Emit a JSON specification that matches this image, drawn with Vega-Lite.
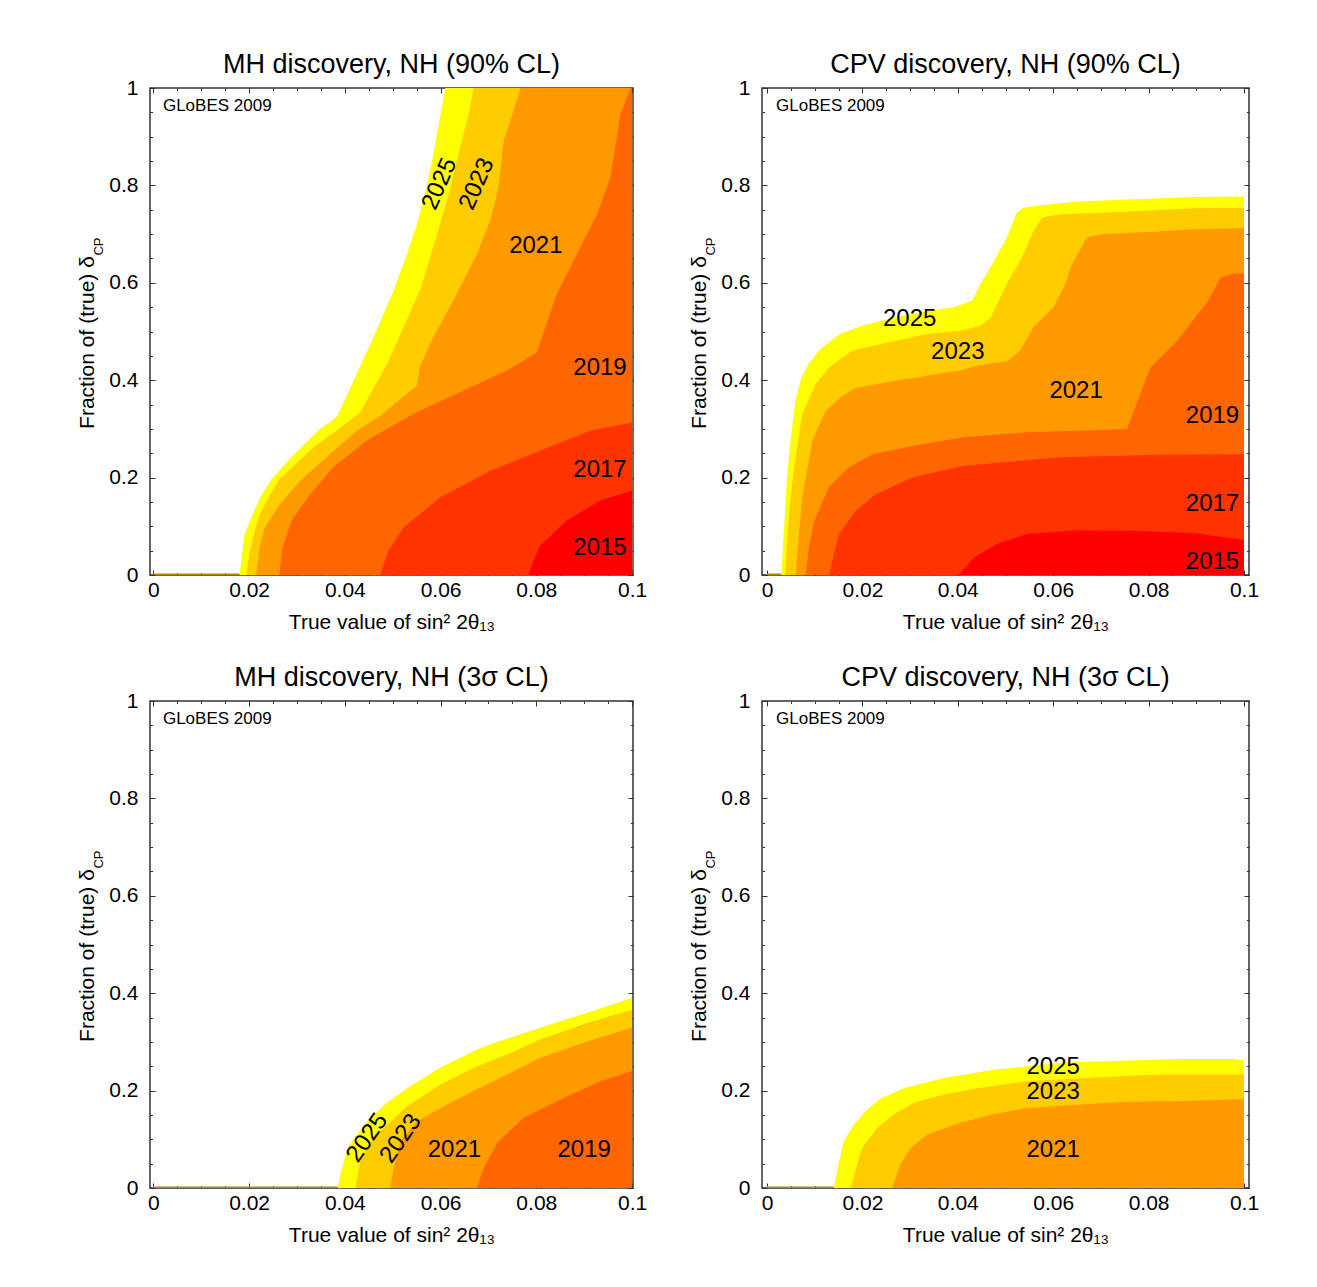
{
"$schema": "https://vega.github.io/schema/vega-lite/v6.json",
"background": "white",
"padding": {"left": 75, "top": 50, "right": 10, "bottom": 10},
"datasets": {
"contours": [
{"p":"MH90","yr":"2025","x":0.018,"y":0},{"p":"MH90","yr":"2025","x":0.019,"y":0.081},{"p":"MH90","yr":"2025","x":0.0202,"y":0.112},{"p":"MH90","yr":"2025","x":0.0223,"y":0.159},{"p":"MH90","yr":"2025","x":0.0247,"y":0.197},{"p":"MH90","yr":"2025","x":0.0289,"y":0.243},{"p":"MH90","yr":"2025","x":0.0348,"y":0.3},{"p":"MH90","yr":"2025","x":0.0373,"y":0.316},{"p":"MH90","yr":"2025","x":0.0385,"y":0.327},{"p":"MH90","yr":"2025","x":0.0425,"y":0.413},{"p":"MH90","yr":"2025","x":0.046,"y":0.488},{"p":"MH90","yr":"2025","x":0.0502,"y":0.584},{"p":"MH90","yr":"2025","x":0.053,"y":0.659},{"p":"MH90","yr":"2025","x":0.0551,"y":0.721},{"p":"MH90","yr":"2025","x":0.0571,"y":0.796},{"p":"MH90","yr":"2025","x":0.0585,"y":0.864},{"p":"MH90","yr":"2025","x":0.0599,"y":0.94},{"p":"MH90","yr":"2025","x":0.061,"y":1},{"p":"MH90","yr":"2025","x":0.1,"y":1},
{"p":"MH90","yr":"2023","x":0.0194,"y":0},{"p":"MH90","yr":"2023","x":0.0203,"y":0.057},{"p":"MH90","yr":"2023","x":0.0222,"y":0.125},{"p":"MH90","yr":"2023","x":0.0261,"y":0.194},{"p":"MH90","yr":"2023","x":0.0334,"y":0.262},{"p":"MH90","yr":"2023","x":0.039,"y":0.302},{"p":"MH90","yr":"2023","x":0.0432,"y":0.334},{"p":"MH90","yr":"2023","x":0.0488,"y":0.433},{"p":"MH90","yr":"2023","x":0.0557,"y":0.584},{"p":"MH90","yr":"2023","x":0.0592,"y":0.697},{"p":"MH90","yr":"2023","x":0.0617,"y":0.782},{"p":"MH90","yr":"2023","x":0.0641,"y":0.878},{"p":"MH90","yr":"2023","x":0.0659,"y":0.947},{"p":"MH90","yr":"2023","x":0.0669,"y":1},{"p":"MH90","yr":"2023","x":0.1,"y":1},
{"p":"MH90","yr":"2021","x":0.0215,"y":0},{"p":"MH90","yr":"2021","x":0.0222,"y":0.057},{"p":"MH90","yr":"2021","x":0.0233,"y":0.098},{"p":"MH90","yr":"2021","x":0.0265,"y":0.146},{"p":"MH90","yr":"2021","x":0.0307,"y":0.194},{"p":"MH90","yr":"2021","x":0.0362,"y":0.242},{"p":"MH90","yr":"2021","x":0.0425,"y":0.296},{"p":"MH90","yr":"2021","x":0.0474,"y":0.327},{"p":"MH90","yr":"2021","x":0.0551,"y":0.389},{"p":"MH90","yr":"2021","x":0.0556,"y":0.426},{"p":"MH90","yr":"2021","x":0.0585,"y":0.488},{"p":"MH90","yr":"2021","x":0.0634,"y":0.577},{"p":"MH90","yr":"2021","x":0.0676,"y":0.659},{"p":"MH90","yr":"2021","x":0.0704,"y":0.728},{"p":"MH90","yr":"2021","x":0.0721,"y":0.796},{"p":"MH90","yr":"2021","x":0.0732,"y":0.892},{"p":"MH90","yr":"2021","x":0.0746,"y":0.933},{"p":"MH90","yr":"2021","x":0.0767,"y":1},{"p":"MH90","yr":"2021","x":0.1,"y":1},
{"p":"MH90","yr":"2019","x":0.0263,"y":0},{"p":"MH90","yr":"2019","x":0.027,"y":0.057},{"p":"MH90","yr":"2019","x":0.0289,"y":0.112},{"p":"MH90","yr":"2019","x":0.0328,"y":0.166},{"p":"MH90","yr":"2019","x":0.0376,"y":0.221},{"p":"MH90","yr":"2019","x":0.0446,"y":0.276},{"p":"MH90","yr":"2019","x":0.0544,"y":0.331},{"p":"MH90","yr":"2019","x":0.0648,"y":0.379},{"p":"MH90","yr":"2019","x":0.0739,"y":0.42},{"p":"MH90","yr":"2019","x":0.0801,"y":0.457},{"p":"MH90","yr":"2019","x":0.0819,"y":0.509},{"p":"MH90","yr":"2019","x":0.0843,"y":0.577},{"p":"MH90","yr":"2019","x":0.0885,"y":0.659},{"p":"MH90","yr":"2019","x":0.0927,"y":0.741},{"p":"MH90","yr":"2019","x":0.0955,"y":0.817},{"p":"MH90","yr":"2019","x":0.0965,"y":0.878},{"p":"MH90","yr":"2019","x":0.0976,"y":0.947},{"p":"MH90","yr":"2019","x":0.0997,"y":1},{"p":"MH90","yr":"2019","x":0.1,"y":1},
{"p":"MH90","yr":"2017","x":0.0474,"y":0},{"p":"MH90","yr":"2017","x":0.0491,"y":0.05},{"p":"MH90","yr":"2017","x":0.0523,"y":0.098},{"p":"MH90","yr":"2017","x":0.0599,"y":0.159},{"p":"MH90","yr":"2017","x":0.0704,"y":0.214},{"p":"MH90","yr":"2017","x":0.0808,"y":0.255},{"p":"MH90","yr":"2017","x":0.0913,"y":0.296},{"p":"MH90","yr":"2017","x":0.1,"y":0.313},
{"p":"MH90","yr":"2015","x":0.0784,"y":0},{"p":"MH90","yr":"2015","x":0.0794,"y":0.029},{"p":"MH90","yr":"2015","x":0.0808,"y":0.06},{"p":"MH90","yr":"2015","x":0.0864,"y":0.112},{"p":"MH90","yr":"2015","x":0.0934,"y":0.153},{"p":"MH90","yr":"2015","x":0.1,"y":0.173},
{"p":"CPV90","yr":"2025","x":0.003,"y":0},{"p":"CPV90","yr":"2025","x":0.0036,"y":0.1},{"p":"CPV90","yr":"2025","x":0.0042,"y":0.2},{"p":"CPV90","yr":"2025","x":0.005,"y":0.283},{"p":"CPV90","yr":"2025","x":0.006,"y":0.36},{"p":"CPV90","yr":"2025","x":0.0072,"y":0.405},{"p":"CPV90","yr":"2025","x":0.0088,"y":0.435},{"p":"CPV90","yr":"2025","x":0.0112,"y":0.464},{"p":"CPV90","yr":"2025","x":0.0151,"y":0.494},{"p":"CPV90","yr":"2025","x":0.02,"y":0.512},{"p":"CPV90","yr":"2025","x":0.0266,"y":0.529},{"p":"CPV90","yr":"2025","x":0.035,"y":0.544},{"p":"CPV90","yr":"2025","x":0.0392,"y":0.55},{"p":"CPV90","yr":"2025","x":0.043,"y":0.563},{"p":"CPV90","yr":"2025","x":0.0448,"y":0.598},{"p":"CPV90","yr":"2025","x":0.0476,"y":0.645},{"p":"CPV90","yr":"2025","x":0.0503,"y":0.693},{"p":"CPV90","yr":"2025","x":0.0524,"y":0.745},{"p":"CPV90","yr":"2025","x":0.0538,"y":0.754},{"p":"CPV90","yr":"2025","x":0.0566,"y":0.758},{"p":"CPV90","yr":"2025","x":0.065,"y":0.767},{"p":"CPV90","yr":"2025","x":0.0755,"y":0.771},{"p":"CPV90","yr":"2025","x":0.0895,"y":0.776},{"p":"CPV90","yr":"2025","x":0.1,"y":0.777},
{"p":"CPV90","yr":"2023","x":0.0038,"y":0},{"p":"CPV90","yr":"2023","x":0.0046,"y":0.125},{"p":"CPV90","yr":"2023","x":0.0057,"y":0.221},{"p":"CPV90","yr":"2023","x":0.0074,"y":0.331},{"p":"CPV90","yr":"2023","x":0.0102,"y":0.392},{"p":"CPV90","yr":"2023","x":0.013,"y":0.426},{"p":"CPV90","yr":"2023","x":0.0179,"y":0.461},{"p":"CPV90","yr":"2023","x":0.0256,"y":0.478},{"p":"CPV90","yr":"2023","x":0.0336,"y":0.495},{"p":"CPV90","yr":"2023","x":0.041,"y":0.502},{"p":"CPV90","yr":"2023","x":0.0448,"y":0.512},{"p":"CPV90","yr":"2023","x":0.0469,"y":0.529},{"p":"CPV90","yr":"2023","x":0.0503,"y":0.598},{"p":"CPV90","yr":"2023","x":0.0538,"y":0.659},{"p":"CPV90","yr":"2023","x":0.0559,"y":0.707},{"p":"CPV90","yr":"2023","x":0.0577,"y":0.734},{"p":"CPV90","yr":"2023","x":0.0615,"y":0.741},{"p":"CPV90","yr":"2023","x":0.0755,"y":0.746},{"p":"CPV90","yr":"2023","x":0.0895,"y":0.753},{"p":"CPV90","yr":"2023","x":0.1,"y":0.754},
{"p":"CPV90","yr":"2021","x":0.006,"y":0},{"p":"CPV90","yr":"2021","x":0.0067,"y":0.084},{"p":"CPV90","yr":"2021","x":0.0074,"y":0.159},{"p":"CPV90","yr":"2021","x":0.0095,"y":0.276},{"p":"CPV90","yr":"2021","x":0.0123,"y":0.337},{"p":"CPV90","yr":"2021","x":0.0158,"y":0.368},{"p":"CPV90","yr":"2021","x":0.0186,"y":0.384},{"p":"CPV90","yr":"2021","x":0.027,"y":0.399},{"p":"CPV90","yr":"2021","x":0.041,"y":0.421},{"p":"CPV90","yr":"2021","x":0.0441,"y":0.43},{"p":"CPV90","yr":"2021","x":0.0503,"y":0.439},{"p":"CPV90","yr":"2021","x":0.0531,"y":0.461},{"p":"CPV90","yr":"2021","x":0.0559,"y":0.509},{"p":"CPV90","yr":"2021","x":0.0601,"y":0.55},{"p":"CPV90","yr":"2021","x":0.0626,"y":0.598},{"p":"CPV90","yr":"2021","x":0.0636,"y":0.632},{"p":"CPV90","yr":"2021","x":0.0671,"y":0.693},{"p":"CPV90","yr":"2021","x":0.0706,"y":0.7},{"p":"CPV90","yr":"2021","x":0.079,"y":0.704},{"p":"CPV90","yr":"2021","x":0.0895,"y":0.71},{"p":"CPV90","yr":"2021","x":0.1,"y":0.712},
{"p":"CPV90","yr":"2019","x":0.0081,"y":0},{"p":"CPV90","yr":"2019","x":0.0088,"y":0.057},{"p":"CPV90","yr":"2019","x":0.0099,"y":0.111},{"p":"CPV90","yr":"2019","x":0.013,"y":0.18},{"p":"CPV90","yr":"2019","x":0.0172,"y":0.221},{"p":"CPV90","yr":"2019","x":0.0221,"y":0.248},{"p":"CPV90","yr":"2019","x":0.0305,"y":0.265},{"p":"CPV90","yr":"2019","x":0.041,"y":0.283},{"p":"CPV90","yr":"2019","x":0.0545,"y":0.293},{"p":"CPV90","yr":"2019","x":0.065,"y":0.296},{"p":"CPV90","yr":"2019","x":0.0755,"y":0.3},{"p":"CPV90","yr":"2019","x":0.078,"y":0.365},{"p":"CPV90","yr":"2019","x":0.0804,"y":0.426},{"p":"CPV90","yr":"2019","x":0.086,"y":0.481},{"p":"CPV90","yr":"2019","x":0.0923,"y":0.56},{"p":"CPV90","yr":"2019","x":0.0951,"y":0.611},{"p":"CPV90","yr":"2019","x":0.0979,"y":0.619},{"p":"CPV90","yr":"2019","x":0.1,"y":0.619},
{"p":"CPV90","yr":"2017","x":0.013,"y":0},{"p":"CPV90","yr":"2017","x":0.0151,"y":0.084},{"p":"CPV90","yr":"2017","x":0.0186,"y":0.132},{"p":"CPV90","yr":"2017","x":0.0228,"y":0.166},{"p":"CPV90","yr":"2017","x":0.0305,"y":0.2},{"p":"CPV90","yr":"2017","x":0.041,"y":0.224},{"p":"CPV90","yr":"2017","x":0.0615,"y":0.242},{"p":"CPV90","yr":"2017","x":0.0825,"y":0.247},{"p":"CPV90","yr":"2017","x":0.1,"y":0.248},
{"p":"CPV90","yr":"2015","x":0.0402,"y":0},{"p":"CPV90","yr":"2015","x":0.0434,"y":0.036},{"p":"CPV90","yr":"2015","x":0.0483,"y":0.064},{"p":"CPV90","yr":"2015","x":0.0545,"y":0.084},{"p":"CPV90","yr":"2015","x":0.065,"y":0.092},{"p":"CPV90","yr":"2015","x":0.0755,"y":0.091},{"p":"CPV90","yr":"2015","x":0.0895,"y":0.086},{"p":"CPV90","yr":"2015","x":0.1,"y":0.072},
{"p":"MH3s","yr":"2025","x":0.0385,"y":0},{"p":"MH3s","yr":"2025","x":0.0394,"y":0.041},{"p":"MH3s","yr":"2025","x":0.0408,"y":0.086},{"p":"MH3s","yr":"2025","x":0.0446,"y":0.137},{"p":"MH3s","yr":"2025","x":0.0488,"y":0.175},{"p":"MH3s","yr":"2025","x":0.053,"y":0.205},{"p":"MH3s","yr":"2025","x":0.0599,"y":0.247},{"p":"MH3s","yr":"2025","x":0.0669,"y":0.281},{"p":"MH3s","yr":"2025","x":0.0704,"y":0.295},{"p":"MH3s","yr":"2025","x":0.0808,"y":0.329},{"p":"MH3s","yr":"2025","x":0.0906,"y":0.36},{"p":"MH3s","yr":"2025","x":0.1,"y":0.39},
{"p":"MH3s","yr":"2023","x":0.0422,"y":0},{"p":"MH3s","yr":"2023","x":0.0432,"y":0.055},{"p":"MH3s","yr":"2023","x":0.046,"y":0.103},{"p":"MH3s","yr":"2023","x":0.053,"y":0.168},{"p":"MH3s","yr":"2023","x":0.0599,"y":0.212},{"p":"MH3s","yr":"2023","x":0.0669,"y":0.247},{"p":"MH3s","yr":"2023","x":0.0739,"y":0.274},{"p":"MH3s","yr":"2023","x":0.0808,"y":0.305},{"p":"MH3s","yr":"2023","x":0.0906,"y":0.339},{"p":"MH3s","yr":"2023","x":0.1,"y":0.366},
{"p":"MH3s","yr":"2021","x":0.0495,"y":0},{"p":"MH3s","yr":"2021","x":0.0502,"y":0.041},{"p":"MH3s","yr":"2021","x":0.0516,"y":0.096},{"p":"MH3s","yr":"2021","x":0.0551,"y":0.137},{"p":"MH3s","yr":"2021","x":0.0613,"y":0.171},{"p":"MH3s","yr":"2021","x":0.0669,"y":0.199},{"p":"MH3s","yr":"2021","x":0.0739,"y":0.233},{"p":"MH3s","yr":"2021","x":0.0808,"y":0.267},{"p":"MH3s","yr":"2021","x":0.0906,"y":0.301},{"p":"MH3s","yr":"2021","x":0.1,"y":0.329},
{"p":"MH3s","yr":"2019","x":0.0676,"y":0},{"p":"MH3s","yr":"2019","x":0.069,"y":0.041},{"p":"MH3s","yr":"2019","x":0.0721,"y":0.096},{"p":"MH3s","yr":"2019","x":0.0774,"y":0.144},{"p":"MH3s","yr":"2019","x":0.0857,"y":0.185},{"p":"MH3s","yr":"2019","x":0.0934,"y":0.219},{"p":"MH3s","yr":"2019","x":0.1,"y":0.24},
{"p":"CPV3s","yr":"2025","x":0.014,"y":0},{"p":"CPV3s","yr":"2025","x":0.015,"y":0.048},{"p":"CPV3s","yr":"2025","x":0.0161,"y":0.096},{"p":"CPV3s","yr":"2025","x":0.0182,"y":0.13},{"p":"CPV3s","yr":"2025","x":0.021,"y":0.161},{"p":"CPV3s","yr":"2025","x":0.0238,"y":0.184},{"p":"CPV3s","yr":"2025","x":0.0287,"y":0.205},{"p":"CPV3s","yr":"2025","x":0.0371,"y":0.226},{"p":"CPV3s","yr":"2025","x":0.0476,"y":0.243},{"p":"CPV3s","yr":"2025","x":0.0615,"y":0.257},{"p":"CPV3s","yr":"2025","x":0.0755,"y":0.262},{"p":"CPV3s","yr":"2025","x":0.086,"y":0.265},{"p":"CPV3s","yr":"2025","x":0.0979,"y":0.265},{"p":"CPV3s","yr":"2025","x":0.1,"y":0.262},
{"p":"CPV3s","yr":"2023","x":0.0176,"y":0},{"p":"CPV3s","yr":"2023","x":0.0189,"y":0.048},{"p":"CPV3s","yr":"2023","x":0.0199,"y":0.082},{"p":"CPV3s","yr":"2023","x":0.0231,"y":0.123},{"p":"CPV3s","yr":"2023","x":0.0266,"y":0.151},{"p":"CPV3s","yr":"2023","x":0.0308,"y":0.175},{"p":"CPV3s","yr":"2023","x":0.0371,"y":0.192},{"p":"CPV3s","yr":"2023","x":0.0441,"y":0.205},{"p":"CPV3s","yr":"2023","x":0.0545,"y":0.219},{"p":"CPV3s","yr":"2023","x":0.0685,"y":0.227},{"p":"CPV3s","yr":"2023","x":0.0825,"y":0.233},{"p":"CPV3s","yr":"2023","x":0.1,"y":0.233},
{"p":"CPV3s","yr":"2021","x":0.0262,"y":0},{"p":"CPV3s","yr":"2021","x":0.028,"y":0.048},{"p":"CPV3s","yr":"2021","x":0.0301,"y":0.082},{"p":"CPV3s","yr":"2021","x":0.0336,"y":0.11},{"p":"CPV3s","yr":"2021","x":0.0406,"y":0.134},{"p":"CPV3s","yr":"2021","x":0.0476,"y":0.152},{"p":"CPV3s","yr":"2021","x":0.0545,"y":0.164},{"p":"CPV3s","yr":"2021","x":0.065,"y":0.171},{"p":"CPV3s","yr":"2021","x":0.0755,"y":0.177},{"p":"CPV3s","yr":"2021","x":0.0895,"y":0.179},{"p":"CPV3s","yr":"2021","x":0.1,"y":0.182}
],
"labels": [
{"p":"MH90","yr":"2025","x":0.0598,"y":0.803},{"p":"MH90","yr":"2023","x":0.0676,"y":0.803},{"p":"MH90","yr":"2021","x":0.0799,"y":0.676},{"p":"MH90","yr":"2019","x":0.0933,"y":0.425},{"p":"MH90","yr":"2017","x":0.0933,"y":0.216},{"p":"MH90","yr":"2015","x":0.0933,"y":0.055},
{"p":"CPV90","yr":"2025","x":0.0299,"y":0.526},{"p":"CPV90","yr":"2023","x":0.04,"y":0.457},{"p":"CPV90","yr":"2021","x":0.0648,"y":0.377},{"p":"CPV90","yr":"2019","x":0.0934,"y":0.326},{"p":"CPV90","yr":"2017","x":0.0934,"y":0.145},{"p":"CPV90","yr":"2015","x":0.0934,"y":0.026},
{"p":"MH3s","yr":"2025","x":0.0447,"y":0.103},{"p":"MH3s","yr":"2023","x":0.0517,"y":0.1015},{"p":"MH3s","yr":"2021","x":0.0629,"y":0.0775},{"p":"MH3s","yr":"2019","x":0.09,"y":0.0775},
{"p":"CPV3s","yr":"2025","x":0.06,"y":0.249},{"p":"CPV3s","yr":"2023","x":0.06,"y":0.197},{"p":"CPV3s","yr":"2021","x":0.06,"y":0.0775}
],
"edge": [
{"p":"MH90","x":0,"y":0},{"p":"MH90","x":0.018,"y":0},
{"p":"CPV90","x":0,"y":0},{"p":"CPV90","x":0.003,"y":0},
{"p":"MH3s","x":0,"y":0},{"p":"MH3s","x":0.0385,"y":0},
{"p":"CPV3s","x":0,"y":0},{"p":"CPV3s","x":0.014,"y":0}
]
},
"columns": 2,
"spacing": {"row": 126, "column": 129},
"bounds": "flush",
"align": "each",
"concat": [
{
"width": 483, "height": 487,
"title": {"text": "MH discovery, NH (90% CL)"},
"layer": [
{"data": {"name": "edge"}, "transform": [{"filter": "datum.p == 'MH90'"}],
 "mark": {"type": "line", "color": "#B8860B", "strokeWidth": 3, "clip": true},
 "encoding": {
  "x": {"field": "x", "type": "quantitative", "scale": {"domain": [-0.0007, 0.1002], "nice": false, "zero": false},
        "axis": {"orient": "bottom", "values": [0,0.02,0.04,0.06,0.08,0.1], "format": ".2~f", "tickSize": -5, "labelPadding": 9, "title": "True value of sin² 2θ₁₃", "titlePadding": 11}},
  "y": {"field": "y", "type": "quantitative", "scale": {"domain": [0, 1], "nice": false, "zero": false},
        "axis": {"orient": "left", "values": [0,0.2,0.4,0.6,0.8,1], "format": ".1~f", "tickSize": -5, "labelPadding": 17, "title": "Fraction of (true) δ", "titleX": -57, "titleY": 254, "titleBaseline": "alphabetic"}}
 }},
{"data": {"name": "contours"}, "transform": [{"filter": "datum.p == 'MH90'"}],
 "mark": {"type": "area", "interpolate": "linear"},
 "encoding": {
  "x": {"field": "x", "type": "quantitative", "scale": {"domain": [-0.0007, 0.1002], "nice": false, "zero": false},
        "axis": {"orient": "bottom", "values": [0,0.005,0.01,0.015,0.02,0.025,0.03,0.035,0.04,0.045,0.05,0.055,0.06,0.065,0.07,0.075,0.08,0.085,0.09,0.095,0.1], "labels": false, "tickSize": -2.5, "title": null}},
  "y": {"field": "y", "type": "quantitative", "stack": null, "scale": {"domain": [0, 1], "nice": false, "zero": false},
        "axis": {"orient": "left", "values": [0,0.05,0.1,0.15,0.2,0.25,0.3,0.35,0.4,0.45,0.5,0.55,0.6,0.65,0.7,0.75,0.8,0.85,0.9,0.95,1], "labels": false, "tickSize": -2.5, "title": "CP", "titleFontSize": 13, "titleX": -48, "titleY": 158, "titleBaseline": "alphabetic"}},
  "color": {"field": "yr", "type": "nominal", "legend": null, "scale": {"domain": ["2025","2023","2021","2019","2017","2015"], "range": ["#FFFF00","#FFCC00","#FF9900","#FF6600","#FF3300","#FF0000"]}}
 }},
{"data": {"name": "labels"}, "transform": [{"filter": "datum.p == 'MH90' && datum.yr != '2025' && datum.yr != '2023'"}],
 "mark": {"type": "text", "fontSize": 24, "font": "Liberation Sans", "color": "black", "align": "center", "baseline": "middle"},
 "encoding": {
  "x": {"field": "x", "type": "quantitative", "scale": {"domain": [-0.0007, 0.1002], "nice": false, "zero": false},
        "axis": {"orient": "top", "values": [0,0.02,0.04,0.06,0.08,0.1], "labels": false, "tickSize": -5, "title": null}},
  "y": {"field": "y", "type": "quantitative", "scale": {"domain": [0, 1], "nice": false, "zero": false},
        "axis": {"orient": "right", "values": [0,0.2,0.4,0.6,0.8,1], "labels": false, "tickSize": -5, "title": null}},
  "text": {"field": "yr"}
 }},
{"data": {"values": [{}]},
 "mark": {"type": "text", "fontSize": 17, "font": "Liberation Sans", "color": "black", "align": "left", "baseline": "alphabetic", "text": "GLoBES 2009"},
 "encoding": {
  "x": {"datum": 0.002, "type": "quantitative", "scale": {"domain": [-0.0007, 0.1002], "nice": false, "zero": false},
        "axis": {"orient": "top", "values": [0,0.005,0.01,0.015,0.02,0.025,0.03,0.035,0.04,0.045,0.05,0.055,0.06,0.065,0.07,0.075,0.08,0.085,0.09,0.095,0.1], "labels": false, "tickSize": -2.5, "title": null}},
  "y": {"datum": 0.953, "type": "quantitative", "scale": {"domain": [0, 1], "nice": false, "zero": false},
        "axis": {"orient": "right", "values": [0,0.05,0.1,0.15,0.2,0.25,0.3,0.35,0.4,0.45,0.5,0.55,0.6,0.65,0.7,0.75,0.8,0.85,0.9,0.95,1], "labels": false, "tickSize": -2.5, "title": null}}
 }},
{"data": {"name": "labels"}, "transform": [{"filter": "datum.p == 'MH90' && (datum.yr == '2025' || datum.yr == '2023')"}],
 "mark": {"type": "text", "fontSize": 24, "font": "Liberation Sans", "color": "black", "align": "center", "baseline": "middle", "angle": -66},
 "encoding": {
  "x": {"field": "x", "type": "quantitative", "scale": {"domain": [-0.0007, 0.1002], "nice": false, "zero": false}, "axis": null},
  "y": {"field": "y", "type": "quantitative", "scale": {"domain": [0, 1], "nice": false, "zero": false}, "axis": null},
  "text": {"field": "yr"}
 }}
],
"resolve": {"axis": {"x": "independent", "y": "independent"}}
},
{
"width": 487, "height": 487,
"title": {"text": "CPV discovery, NH (90% CL)"},
"layer": [
{"data": {"name": "edge"}, "transform": [{"filter": "datum.p == 'CPV90'"}],
 "mark": {"type": "line", "color": "#B8860B", "strokeWidth": 3, "clip": true},
 "encoding": {
  "x": {"field": "x", "type": "quantitative", "scale": {"domain": [-0.00105, 0.10105], "nice": false, "zero": false},
        "axis": {"orient": "bottom", "values": [0,0.02,0.04,0.06,0.08,0.1], "format": ".2~f", "tickSize": -5, "labelPadding": 9, "title": "True value of sin² 2θ₁₃", "titlePadding": 11}},
  "y": {"field": "y", "type": "quantitative", "scale": {"domain": [0, 1], "nice": false, "zero": false},
        "axis": {"orient": "left", "values": [0,0.2,0.4,0.6,0.8,1], "format": ".1~f", "tickSize": -5, "labelPadding": 17, "title": "Fraction of (true) δ", "titleX": -57, "titleY": 254, "titleBaseline": "alphabetic"}}
 }},
{"data": {"name": "contours"}, "transform": [{"filter": "datum.p == 'CPV90'"}],
 "mark": {"type": "area", "interpolate": "linear"},
 "encoding": {
  "x": {"field": "x", "type": "quantitative", "scale": {"domain": [-0.00105, 0.10105], "nice": false, "zero": false},
        "axis": {"orient": "bottom", "values": [0,0.005,0.01,0.015,0.02,0.025,0.03,0.035,0.04,0.045,0.05,0.055,0.06,0.065,0.07,0.075,0.08,0.085,0.09,0.095,0.1], "labels": false, "tickSize": -2.5, "title": null}},
  "y": {"field": "y", "type": "quantitative", "stack": null, "scale": {"domain": [0, 1], "nice": false, "zero": false},
        "axis": {"orient": "left", "values": [0,0.05,0.1,0.15,0.2,0.25,0.3,0.35,0.4,0.45,0.5,0.55,0.6,0.65,0.7,0.75,0.8,0.85,0.9,0.95,1], "labels": false, "tickSize": -2.5, "title": "CP", "titleFontSize": 13, "titleX": -48, "titleY": 158, "titleBaseline": "alphabetic"}},
  "color": {"field": "yr", "type": "nominal", "legend": null, "scale": {"domain": ["2025","2023","2021","2019","2017","2015"], "range": ["#FFFF00","#FFCC00","#FF9900","#FF6600","#FF3300","#FF0000"]}}
 }},
{"data": {"name": "labels"}, "transform": [{"filter": "datum.p == 'CPV90'"}],
 "mark": {"type": "text", "fontSize": 24, "font": "Liberation Sans", "color": "black", "align": "center", "baseline": "middle"},
 "encoding": {
  "x": {"field": "x", "type": "quantitative", "scale": {"domain": [-0.00105, 0.10105], "nice": false, "zero": false},
        "axis": {"orient": "top", "values": [0,0.02,0.04,0.06,0.08,0.1], "labels": false, "tickSize": -5, "title": null}},
  "y": {"field": "y", "type": "quantitative", "scale": {"domain": [0, 1], "nice": false, "zero": false},
        "axis": {"orient": "right", "values": [0,0.2,0.4,0.6,0.8,1], "labels": false, "tickSize": -5, "title": null}},
  "text": {"field": "yr"}
 }},
{"data": {"values": [{}]},
 "mark": {"type": "text", "fontSize": 17, "font": "Liberation Sans", "color": "black", "align": "left", "baseline": "alphabetic", "text": "GLoBES 2009"},
 "encoding": {
  "x": {"datum": 0.0019, "type": "quantitative", "scale": {"domain": [-0.00105, 0.10105], "nice": false, "zero": false},
        "axis": {"orient": "top", "values": [0,0.005,0.01,0.015,0.02,0.025,0.03,0.035,0.04,0.045,0.05,0.055,0.06,0.065,0.07,0.075,0.08,0.085,0.09,0.095,0.1], "labels": false, "tickSize": -2.5, "title": null}},
  "y": {"datum": 0.953, "type": "quantitative", "scale": {"domain": [0, 1], "nice": false, "zero": false},
        "axis": {"orient": "right", "values": [0,0.05,0.1,0.15,0.2,0.25,0.3,0.35,0.4,0.45,0.5,0.55,0.6,0.65,0.7,0.75,0.8,0.85,0.9,0.95,1], "labels": false, "tickSize": -2.5, "title": null}}
 }}
],
"resolve": {"axis": {"x": "independent", "y": "independent"}}
},
{
"width": 483, "height": 487,
"title": {"text": "MH discovery, NH (3σ CL)"},
"layer": [
{"data": {"name": "edge"}, "transform": [{"filter": "datum.p == 'MH3s'"}],
 "mark": {"type": "line", "color": "#B8860B", "strokeWidth": 3, "clip": true},
 "encoding": {
  "x": {"field": "x", "type": "quantitative", "scale": {"domain": [-0.0007, 0.1002], "nice": false, "zero": false},
        "axis": {"orient": "bottom", "values": [0,0.02,0.04,0.06,0.08,0.1], "format": ".2~f", "tickSize": -5, "labelPadding": 9, "title": "True value of sin² 2θ₁₃", "titlePadding": 11}},
  "y": {"field": "y", "type": "quantitative", "scale": {"domain": [0, 1], "nice": false, "zero": false},
        "axis": {"orient": "left", "values": [0,0.2,0.4,0.6,0.8,1], "format": ".1~f", "tickSize": -5, "labelPadding": 17, "title": "Fraction of (true) δ", "titleX": -57, "titleY": 254, "titleBaseline": "alphabetic"}}
 }},
{"data": {"name": "contours"}, "transform": [{"filter": "datum.p == 'MH3s'"}],
 "mark": {"type": "area", "interpolate": "linear"},
 "encoding": {
  "x": {"field": "x", "type": "quantitative", "scale": {"domain": [-0.0007, 0.1002], "nice": false, "zero": false},
        "axis": {"orient": "bottom", "values": [0,0.005,0.01,0.015,0.02,0.025,0.03,0.035,0.04,0.045,0.05,0.055,0.06,0.065,0.07,0.075,0.08,0.085,0.09,0.095,0.1], "labels": false, "tickSize": -2.5, "title": null}},
  "y": {"field": "y", "type": "quantitative", "stack": null, "scale": {"domain": [0, 1], "nice": false, "zero": false},
        "axis": {"orient": "left", "values": [0,0.05,0.1,0.15,0.2,0.25,0.3,0.35,0.4,0.45,0.5,0.55,0.6,0.65,0.7,0.75,0.8,0.85,0.9,0.95,1], "labels": false, "tickSize": -2.5, "title": "CP", "titleFontSize": 13, "titleX": -48, "titleY": 158, "titleBaseline": "alphabetic"}},
  "color": {"field": "yr", "type": "nominal", "legend": null, "scale": {"domain": ["2025","2023","2021","2019","2017","2015"], "range": ["#FFFF00","#FFCC00","#FF9900","#FF6600","#FF3300","#FF0000"]}}
 }},
{"data": {"name": "labels"}, "transform": [{"filter": "datum.p == 'MH3s' && datum.yr != '2025' && datum.yr != '2023'"}],
 "mark": {"type": "text", "fontSize": 24, "font": "Liberation Sans", "color": "black", "align": "center", "baseline": "middle"},
 "encoding": {
  "x": {"field": "x", "type": "quantitative", "scale": {"domain": [-0.0007, 0.1002], "nice": false, "zero": false},
        "axis": {"orient": "top", "values": [0,0.02,0.04,0.06,0.08,0.1], "labels": false, "tickSize": -5, "title": null}},
  "y": {"field": "y", "type": "quantitative", "scale": {"domain": [0, 1], "nice": false, "zero": false},
        "axis": {"orient": "right", "values": [0,0.2,0.4,0.6,0.8,1], "labels": false, "tickSize": -5, "title": null}},
  "text": {"field": "yr"}
 }},
{"data": {"values": [{}]},
 "mark": {"type": "text", "fontSize": 17, "font": "Liberation Sans", "color": "black", "align": "left", "baseline": "alphabetic", "text": "GLoBES 2009"},
 "encoding": {
  "x": {"datum": 0.002, "type": "quantitative", "scale": {"domain": [-0.0007, 0.1002], "nice": false, "zero": false},
        "axis": {"orient": "top", "values": [0,0.005,0.01,0.015,0.02,0.025,0.03,0.035,0.04,0.045,0.05,0.055,0.06,0.065,0.07,0.075,0.08,0.085,0.09,0.095,0.1], "labels": false, "tickSize": -2.5, "title": null}},
  "y": {"datum": 0.953, "type": "quantitative", "scale": {"domain": [0, 1], "nice": false, "zero": false},
        "axis": {"orient": "right", "values": [0,0.05,0.1,0.15,0.2,0.25,0.3,0.35,0.4,0.45,0.5,0.55,0.6,0.65,0.7,0.75,0.8,0.85,0.9,0.95,1], "labels": false, "tickSize": -2.5, "title": null}}
 }},
{"data": {"name": "labels"}, "transform": [{"filter": "datum.p == 'MH3s' && (datum.yr == '2025' || datum.yr == '2023')"}],
 "mark": {"type": "text", "fontSize": 24, "font": "Liberation Sans", "color": "black", "align": "center", "baseline": "middle", "angle": -55},
 "encoding": {
  "x": {"field": "x", "type": "quantitative", "scale": {"domain": [-0.0007, 0.1002], "nice": false, "zero": false}, "axis": null},
  "y": {"field": "y", "type": "quantitative", "scale": {"domain": [0, 1], "nice": false, "zero": false}, "axis": null},
  "text": {"field": "yr"}
 }}
],
"resolve": {"axis": {"x": "independent", "y": "independent"}}
},
{
"width": 487, "height": 487,
"title": {"text": "CPV discovery, NH (3σ CL)"},
"layer": [
{"data": {"name": "edge"}, "transform": [{"filter": "datum.p == 'CPV3s'"}],
 "mark": {"type": "line", "color": "#B8860B", "strokeWidth": 3, "clip": true},
 "encoding": {
  "x": {"field": "x", "type": "quantitative", "scale": {"domain": [-0.00105, 0.10105], "nice": false, "zero": false},
        "axis": {"orient": "bottom", "values": [0,0.02,0.04,0.06,0.08,0.1], "format": ".2~f", "tickSize": -5, "labelPadding": 9, "title": "True value of sin² 2θ₁₃", "titlePadding": 11}},
  "y": {"field": "y", "type": "quantitative", "scale": {"domain": [0, 1], "nice": false, "zero": false},
        "axis": {"orient": "left", "values": [0,0.2,0.4,0.6,0.8,1], "format": ".1~f", "tickSize": -5, "labelPadding": 17, "title": "Fraction of (true) δ", "titleX": -57, "titleY": 254, "titleBaseline": "alphabetic"}}
 }},
{"data": {"name": "contours"}, "transform": [{"filter": "datum.p == 'CPV3s'"}],
 "mark": {"type": "area", "interpolate": "linear"},
 "encoding": {
  "x": {"field": "x", "type": "quantitative", "scale": {"domain": [-0.00105, 0.10105], "nice": false, "zero": false},
        "axis": {"orient": "bottom", "values": [0,0.005,0.01,0.015,0.02,0.025,0.03,0.035,0.04,0.045,0.05,0.055,0.06,0.065,0.07,0.075,0.08,0.085,0.09,0.095,0.1], "labels": false, "tickSize": -2.5, "title": null}},
  "y": {"field": "y", "type": "quantitative", "stack": null, "scale": {"domain": [0, 1], "nice": false, "zero": false},
        "axis": {"orient": "left", "values": [0,0.05,0.1,0.15,0.2,0.25,0.3,0.35,0.4,0.45,0.5,0.55,0.6,0.65,0.7,0.75,0.8,0.85,0.9,0.95,1], "labels": false, "tickSize": -2.5, "title": "CP", "titleFontSize": 13, "titleX": -48, "titleY": 158, "titleBaseline": "alphabetic"}},
  "color": {"field": "yr", "type": "nominal", "legend": null, "scale": {"domain": ["2025","2023","2021","2019","2017","2015"], "range": ["#FFFF00","#FFCC00","#FF9900","#FF6600","#FF3300","#FF0000"]}}
 }},
{"data": {"name": "labels"}, "transform": [{"filter": "datum.p == 'CPV3s'"}],
 "mark": {"type": "text", "fontSize": 24, "font": "Liberation Sans", "color": "black", "align": "center", "baseline": "middle"},
 "encoding": {
  "x": {"field": "x", "type": "quantitative", "scale": {"domain": [-0.00105, 0.10105], "nice": false, "zero": false},
        "axis": {"orient": "top", "values": [0,0.02,0.04,0.06,0.08,0.1], "labels": false, "tickSize": -5, "title": null}},
  "y": {"field": "y", "type": "quantitative", "scale": {"domain": [0, 1], "nice": false, "zero": false},
        "axis": {"orient": "right", "values": [0,0.2,0.4,0.6,0.8,1], "labels": false, "tickSize": -5, "title": null}},
  "text": {"field": "yr"}
 }},
{"data": {"values": [{}]},
 "mark": {"type": "text", "fontSize": 17, "font": "Liberation Sans", "color": "black", "align": "left", "baseline": "alphabetic", "text": "GLoBES 2009"},
 "encoding": {
  "x": {"datum": 0.0019, "type": "quantitative", "scale": {"domain": [-0.00105, 0.10105], "nice": false, "zero": false},
        "axis": {"orient": "top", "values": [0,0.005,0.01,0.015,0.02,0.025,0.03,0.035,0.04,0.045,0.05,0.055,0.06,0.065,0.07,0.075,0.08,0.085,0.09,0.095,0.1], "labels": false, "tickSize": -2.5, "title": null}},
  "y": {"datum": 0.953, "type": "quantitative", "scale": {"domain": [0, 1], "nice": false, "zero": false},
        "axis": {"orient": "right", "values": [0,0.05,0.1,0.15,0.2,0.25,0.3,0.35,0.4,0.45,0.5,0.55,0.6,0.65,0.7,0.75,0.8,0.85,0.9,0.95,1], "labels": false, "tickSize": -2.5, "title": null}}
 }}
],
"resolve": {"axis": {"x": "independent", "y": "independent"}}
}
],
"config": {
 "view": {"stroke": "#333333", "strokeWidth": 1.5},
 "axis": {"domain": false, "grid": false, "tickColor": "#333333", "tickWidth": 1, "labelFont": "Liberation Sans", "labelFontSize": 21, "labelColor": "#000000", "titleFont": "Liberation Sans", "titleFontSize": 21, "titleFontWeight": "normal", "titleColor": "#000000", "labelFlush": false, "labelOverlap": false},
 "title": {"font": "Liberation Sans", "fontSize": 27, "fontWeight": "normal", "color": "#000000", "offset": -2, "anchor": "middle", "baseline": "alphabetic"}
}
}
